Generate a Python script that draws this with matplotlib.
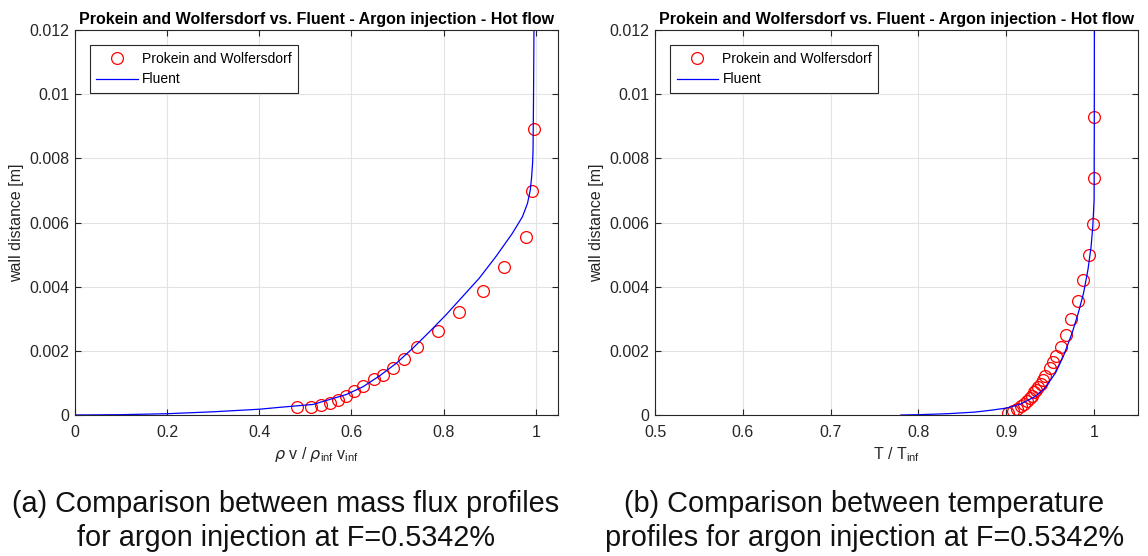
import matplotlib.pyplot as plt
import numpy as np

plt.rcParams['font.family'] = ['Liberation Sans', 'DejaVu Sans']
plt.rcParams['mathtext.fontset'] = 'dejavusans'

titulo = "Prokein and Wolfersdorf vs. Fluent - Argon injection - Hot flow"

# fluxo de massa - pontos experimentais
mf_exp_x = [0.996, 0.992, 0.978, 0.931, 0.886, 0.834, 0.787, 0.743, 0.713, 0.691,
            0.668, 0.648, 0.625, 0.605, 0.588, 0.570, 0.553, 0.534, 0.513, 0.482]
mf_exp_y = [0.00891, 0.00699, 0.00555, 0.00461, 0.00385, 0.00320, 0.00263, 0.00213,
            0.00176, 0.00146, 0.00125, 0.00111, 0.00091, 0.00076, 0.00060, 0.00048,
            0.00036, 0.00031, 0.00025, 0.00024]

# fluxo de massa - Fluent
mf_cfd_x = [0.0, 0.1, 0.2, 0.3, 0.4, 0.445, 0.517, 0.589, 0.625, 0.661, 0.697,
            0.733, 0.769, 0.805, 0.841, 0.877, 0.913, 0.949, 0.971, 0.982, 0.988,
            0.991, 0.993, 0.994, 0.995, 0.996]
mf_cfd_y = [0.0, 0.00001, 0.00004, 0.0001, 0.00018, 0.00024, 0.00033, 0.00064,
            0.00088, 0.00122, 0.00161, 0.00208, 0.00259, 0.00312, 0.00369, 0.00426,
            0.00493, 0.00566, 0.00618, 0.0066, 0.00701, 0.00743, 0.00785, 0.00826,
            0.00982, 0.0120]

# temperatura - pontos experimentais
t_exp_x = [0.9995, 0.9995, 0.9992, 0.9943, 0.9878, 0.9816, 0.974, 0.9675, 0.9625,
           0.957, 0.953, 0.950, 0.944, 0.942, 0.939, 0.9365, 0.934, 0.932, 0.929,
           0.927, 0.924, 0.920, 0.9167, 0.9124, 0.9078, 0.9025]
t_exp_y = [0.00929, 0.00740, 0.00595, 0.00499, 0.00420, 0.00356, 0.00298, 0.00250,
           0.00211, 0.00184, 0.00164, 0.00145, 0.00121, 0.00108, 0.00097, 0.00087,
           0.00079, 0.00071, 0.00060, 0.00052, 0.00044, 0.00035, 0.00027, 0.00019,
           0.00012, 0.00006]

# temperatura - Fluent
t_cfd_x = [0.78, 0.8, 0.833, 0.864, 0.883, 0.901, 0.917, 0.933, 0.944, 0.956,
           0.965, 0.975, 0.982, 0.988, 0.993, 0.9966, 0.9985, 1.0, 1.0002, 1.0003]
t_cfd_y = [0.0, 0.00001, 0.00004, 0.00009, 0.00015, 0.00022, 0.00035, 0.00058,
           0.00084, 0.00131, 0.00183, 0.00256, 0.00318, 0.0038, 0.00453, 0.00526,
           0.00588, 0.0067, 0.0090, 0.0120]

y_ticks = [0, 0.002, 0.004, 0.006, 0.008, 0.01, 0.012]
y_tick_labels = ["0", "0.002", "0.004", "0.006", "0.008", "0.01", "0.012"]

legendas = ["(a) Comparison between mass flux profiles\nfor argon injection at F=0.5342%",
            "(b) Comparison between temperature\nprofiles for argon injection at F=0.5342%"]

fig = plt.figure(figsize=(11.48, 5.56), dpi=100)
ax1 = fig.add_axes([0.0653, 0.2536, 0.4207, 0.6924])
ax2 = fig.add_axes([0.5706, 0.2536, 0.4207, 0.6924])


def estilo(ax, xlim, xticks, xlabel):
    ax.set_xlim(xlim)
    ax.set_ylim(0, 0.012)
    ax.set_xticks(xticks)
    ax.set_xticklabels([("%g" % t) for t in xticks])
    ax.set_yticks(y_ticks)
    ax.set_yticklabels(y_tick_labels)
    ax.tick_params(direction="in", top=True, right=True, labelsize=11.5,
                   color="#262626", labelcolor="#262626", length=4)
    ax.tick_params(axis="x", pad=7)
    ax.tick_params(axis="y", pad=4)
    ax.grid(True, color="#e3e3e3", linewidth=0.8)
    ax.set_axisbelow(True)
    for s in ax.spines.values():
        s.set_color("#262626")
        s.set_linewidth(0.8)
    ax.set_xlabel(xlabel, fontsize=11.5, labelpad=4, color="#262626")
    ax.set_ylabel("wall distance [m]", fontsize=11.5, labelpad=4, color="#262626")
    ax.set_title(titulo, fontsize=11.5, fontweight="bold", pad=4)
    leg = ax.legend(loc="upper left", fontsize=10, fancybox=False, framealpha=1,
                    edgecolor="#262626", borderpad=0.45, handlelength=3.0,
                    handletextpad=0.3, borderaxespad=1.1, labelspacing=0.5)
    leg.get_frame().set_linewidth(0.8)


ax1.plot(mf_exp_x, mf_exp_y, "o", color="red", markerfacecolor="none",
         markersize=8.5, markeredgewidth=0.9, label="Prokein and Wolfersdorf")
ax1.plot(mf_cfd_x, mf_cfd_y, "-", color="blue", linewidth=0.9, label="Fluent")
estilo(ax1, (0, 1.048), [0, 0.2, 0.4, 0.6, 0.8, 1],
       r"$\rho$ v / $\rho_{\mathregular{inf}}$ v$_{\mathregular{inf}}$")

ax2.plot(t_exp_x, t_exp_y, "o", color="red", markerfacecolor="none",
         markersize=8.5, markeredgewidth=0.9, label="Prokein and Wolfersdorf")
ax2.plot(t_cfd_x, t_cfd_y, "-", color="blue", linewidth=0.9, label="Fluent")
estilo(ax2, (0.5, 1.05), [0.5, 0.6, 0.7, 0.8, 0.9, 1],
       r"T / T$_{\mathregular{inf}}$")

fig.text(0.249, 0.0625, legendas[0], ha="center", va="center", fontsize=20.8,
         linespacing=1.28, color="#111111")
fig.text(0.753, 0.0625, legendas[1], ha="center", va="center", fontsize=20.8,
         linespacing=1.28, color="#111111")

fig.savefig("out.png", dpi=100)
